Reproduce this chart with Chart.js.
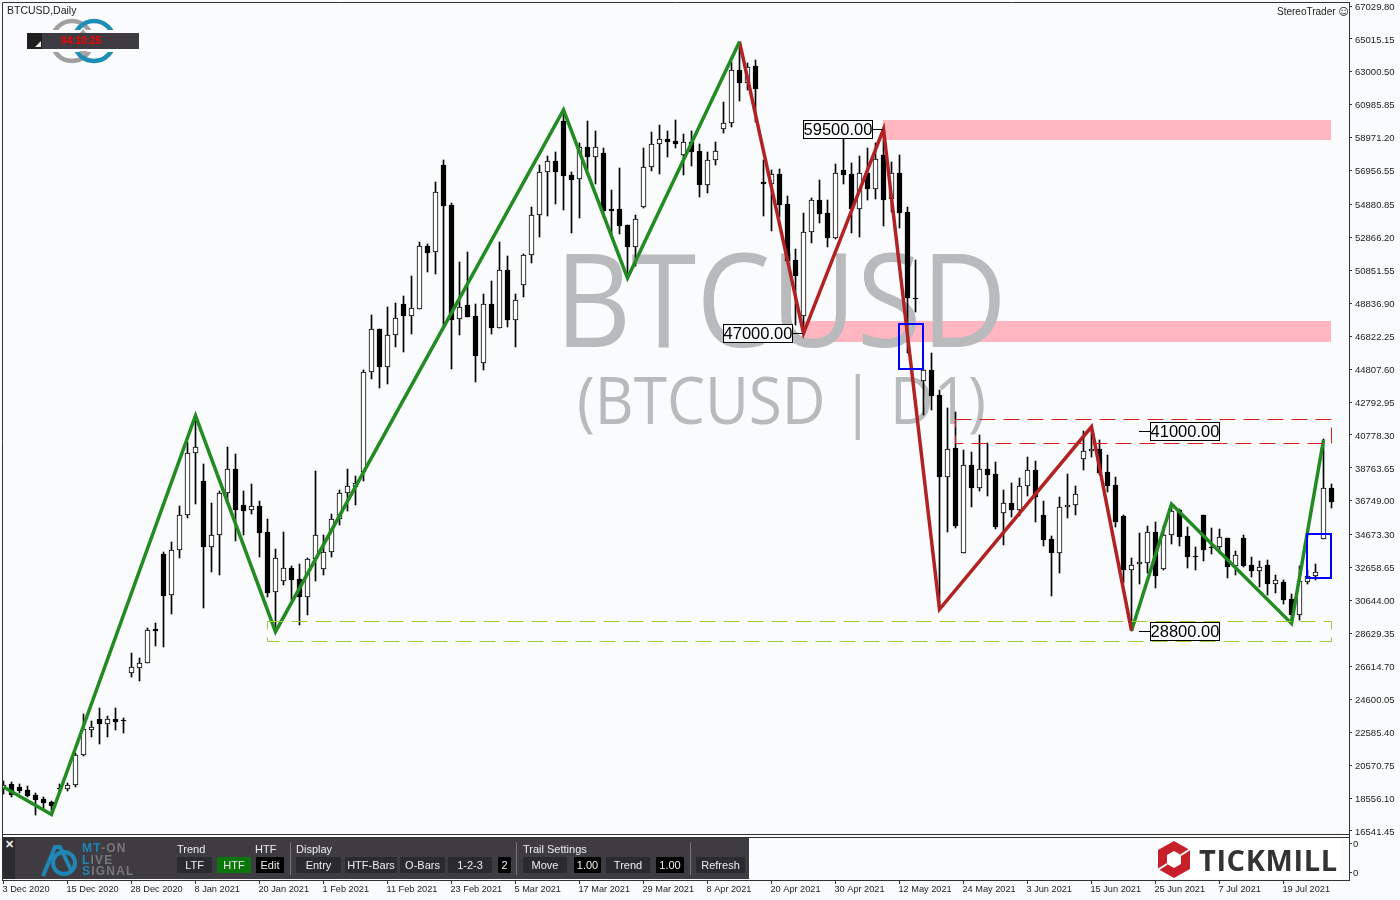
<!DOCTYPE html>
<html>
<head>
<meta charset="utf-8">
<title>BTCUSD Daily</title>
<script src="https://cdn.jsdelivr.net/npm/chart.js@4/dist/chart.umd.min.js"></script>
<style>
  html, body { margin: 0; padding: 0; background: #f9fbfd; }
  body { width: 1400px; height: 900px; position: relative; overflow: hidden; font-family: "Liberation Sans", sans-serif; }
  canvas { display: block; position: absolute; left: 0; top: 0; }
  .abs { position: absolute; white-space: nowrap; }
  .btn { position: absolute; top: 857px; height: 16px; line-height: 16px; text-align: center; color: #eee; font-size: 11px; background: #2b2a2e; border-radius: 1px; }
</style>
</head>
<body>
<canvas id="chart" width="1400" height="900"></canvas>

<div class="abs" style="left:7px;top:4px;font-size:10.5px;color:#222;">BTCUSD,Daily</div>
<div class="abs" style="left:1277px;top:6px;font-size:10px;color:#222;">StereoTrader <span style="font-family:'DejaVu Sans';">☺</span></div>

<svg class="abs" style="left:40px;top:14px;" width="90" height="56">
  <circle cx="32" cy="27" r="20" fill="none" stroke="#a0a0a0" stroke-width="4.5"/>
  <circle cx="54" cy="27" r="20" fill="none" stroke="#1e8db5" stroke-width="4.5"/>
  <rect x="8" y="16" width="72" height="22" fill="#f9fbfd"/>
  <polygon points="43,15 47,20 39,20" fill="#a8a8a8"/>
  <polygon points="43,39 47,34 39,34" fill="#a8a8a8" transform="translate(0,3)"/>
</svg>
<div class="abs" style="left:27px;top:33px;width:112px;height:16px;background:#3e3c42;"></div>
<div class="abs" style="left:27px;top:33px;width:15px;height:16px;background:#1f1f1f;"></div>
<svg class="abs" style="left:34px;top:40px;" width="8" height="8"><polygon points="7,1 7,7 1,7" fill="#e8e8e8"/></svg>
<div class="abs" style="left:61px;top:35px;font-size:10px;font-weight:bold;color:#f00;">04:10:25</div>

<!-- sub window under the price panel -->
<div class="abs" style="left:2px;top:834px;width:1347px;height:46px;background:#f9fbfd;border-top:1px solid #333;box-sizing:border-box;"></div>
<div class="abs" style="left:2px;top:837px;width:1347px;height:1px;background:#333;"></div>
<div class="abs" style="left:2px;top:834px;width:1px;height:46px;background:#333;"></div>
<div class="abs" style="left:1158px;top:838px;width:182px;height:41px;background:#fff;"></div>
<div class="abs" style="left:1349px;top:843px;width:3px;height:1px;background:#333;"></div>
<div class="abs" style="left:1349px;top:872px;width:3px;height:1px;background:#333;"></div>
<div class="abs" style="left:1353px;top:838px;font-size:9.5px;color:#222;">0</div>
<div class="abs" style="left:1353px;top:867px;font-size:9.5px;color:#222;">0</div>

<div id="toolbar" class="abs" style="left:3px;top:838px;width:746px;height:41px;background:#3e3c42;"></div>
<div class="abs" style="left:3px;top:838px;width:12px;height:41px;background:#2b2a2e;"></div>
<div class="abs" style="left:5px;top:838px;font-size:11px;font-weight:bold;color:#eee;">✕</div>
<svg class="abs" style="left:40px;top:842px;" width="44" height="37">
  <circle cx="24" cy="21" r="11" fill="none" stroke="#1f86b5" stroke-width="4"/>
  <polyline points="3,34 15,5 20,5 32,30" fill="none" stroke="#1f86b5" stroke-width="4"/>
</svg>
<div class="abs" style="left:82px;top:843px;font-size:12px;line-height:11.5px;font-weight:bold;letter-spacing:1.2px;color:#77767b;">
  <span style="color:#1f86b5;">MT</span>-ON<br><span style="color:#1f86b5;">L</span>IVE<br><span style="color:#1f86b5;">S</span>IGNAL
</div>

<!-- tickmill mark -->
<svg class="abs" style="left:1156px;top:839px;" width="38" height="41">
  <polygon points="18,2 34,11 34,30 18,39 2,30 2,11" fill="#c8202a"/>
  <polygon points="18,12 25,16 25,25 18,29 11,25 11,16" fill="#fff"/>
  <line x1="25" y1="16" x2="36" y2="9" stroke="#fff" stroke-width="2"/>
  <line x1="11" y1="25" x2="0" y2="32" stroke="#fff" stroke-width="2"/>
</svg>
<div class="abs" style="left:1199px;top:840px;font-family:'Open Sans';font-weight:700;font-size:29px;letter-spacing:0.6px;color:#333;">TICKMILL</div>

<script>
// time axis
const xTickBars = [0, 8, 16, 24, 32, 40, 48, 56, 64, 72, 80, 88, 96, 104, 112, 120, 128, 136, 144, 152, 160];
const xTickLabels = ["3 Dec 2020", "15 Dec 2020", "28 Dec 2020", "8 Jan 2021", "20 Jan 2021", "1 Feb 2021", "11 Feb 2021", "23 Feb 2021", "5 Mar 2021", "17 Mar 2021", "29 Mar 2021", "8 Apr 2021", "20 Apr 2021", "30 Apr 2021", "12 May 2021", "24 May 2021", "3 Jun 2021", "15 Jun 2021", "25 Jun 2021", "7 Jul 2021", "19 Jul 2021"];

// price axis
const yTicks = [67029.80, 65015.15, 63000.50, 60985.85, 58971.20, 56956.55, 54880.85, 52866.20, 50851.55, 48836.90, 46822.25, 44807.60, 42792.95, 40778.30, 38763.65, 36749.00, 34673.30, 32658.65, 30644.00, 28629.35, 26614.70, 24600.05, 22585.40, 20570.75, 18556.10, 16541.45];

// daily candles
const opens = [19090,19400,19230,19030,18730,18500,18320,19170,19110,19370,21180,22740,23380,23110,23380,23320,26230,26540,26810,28880,33470,30970,33720,35870,39650,37960,33900,34630,37210,38670,36480,36170,36420,34820,31150,31830,32620,31950,30880,33170,32560,33600,35620,37210,37610,38530,44610,47260,44960,46880,48790,48080,48470,52320,51960,57300,54850,47860,48710,48040,45160,48770,47340,50860,47830,49970,51780,54220,56860,57530,59970,56690,56430,58380,57810,58020,54600,54600,53630,52300,54740,57160,58560,58870,58770,57930,58690,58140,56100,57590,59520,59880,63090,62300,63340,56240,56120,56730,54910,51490,48060,53180,55140,54360,52850,56990,56730,54620,56790,55850,57890,55210,56790,54400,49180,44100,44730,43200,38230,39960,33570,38920,37550,38670,38370,35990,36600,36210,37640,38610,35870,34390,33570,36360,36480,39290,39770,39900,38490,37700,35820,32530,32860,32960,34820,32600,34630,36190,34590,33370,35870,33920,33900,34450,32780,34450,32800,32470,32800,31680,31770,30750,29780,31770,32170,34390,37520];
const highs = [19600,19540,19420,19290,18850,18620,18380,19420,19500,21300,23700,23270,24070,23580,24070,23440,27420,27110,28940,29250,33600,34220,36430,40350,41960,38980,36600,37330,40050,39610,37350,37780,36720,35640,33800,34830,32760,32880,33230,38570,34650,35950,37410,38690,38270,44750,48120,47260,48610,48850,49280,50510,52570,52450,56260,57590,54950,51360,51980,48770,49400,50210,52590,51730,49400,51860,54730,57300,57850,58090,60670,56870,58630,59970,59360,58320,55770,57100,53630,54220,58320,59320,59740,59360,60050,59190,59360,58560,58090,58730,61160,63620,64840,63520,63720,57600,56990,57030,55400,52140,54360,55280,56380,55160,57340,58900,57400,57850,58320,58630,59500,57500,57910,54710,51490,44750,45790,43530,42430,42190,39840,39730,40780,40270,39120,37410,37820,38130,39430,39180,36740,34590,36980,38390,37660,41030,41280,40480,39550,38210,35890,33270,34760,35210,35460,35210,36560,36270,35170,33940,35890,35090,35010,34490,33680,34650,33290,33080,33120,32210,31910,31050,32760,32520,32880,40520,37780];
const lows = [18810,18640,18850,18640,17540,17830,17540,18890,19010,19250,21150,22310,21870,22310,22720,22560,25990,25740,26810,27880,27820,29840,33250,35720,36570,30210,32410,32230,36630,34300,34650,35960,33310,30890,28740,31600,30680,29160,29770,31840,32230,33330,35270,36150,36500,37980,44200,43670,43910,46180,45880,46960,48470,50770,50650,47490,44830,46920,47980,44030,44770,46980,47310,47410,46180,49240,51320,52910,54200,54930,54570,53130,54080,56990,56160,54130,52910,53100,50390,51120,54680,56950,56750,57810,58340,56710,57260,55360,55610,57320,59270,59640,61240,61890,59940,54200,53280,54130,51370,47510,46960,52510,53770,52300,52750,56140,53160,52910,55160,55210,53580,54440,53420,45820,48320,42000,42310,30070,34860,35110,33570,36390,37370,37040,35050,34040,35780,35820,37040,35480,34000,30950,32350,35720,35890,38630,39440,38330,37310,35120,31720,28800,31660,32310,31430,32520,34080,33980,32650,32520,33080,33490,33530,32050,32210,32720,32110,31500,30990,31090,30420,29250,29450,31640,31900,34390,36330];
const closes = [19370,18760,19010,18700,18460,18270,18090,19130,19370,21180,22770,22890,23110,23380,23230,23250,26560,26810,28820,28800,30950,33720,35870,39650,40020,33900,34630,37210,38670,36210,36150,36420,34790,31130,33270,32620,31920,30880,33170,34630,33600,35620,37210,37640,37820,44610,47250,44960,46880,47920,48080,48530,52320,51930,55630,54800,47810,48630,48020,45630,48770,47340,50860,47830,49020,51780,54220,56860,57530,56890,56650,56400,58380,57810,58380,54500,54500,53580,52300,53970,57160,58560,58870,58720,58600,58690,58110,56100,57590,58160,59850,63090,62300,63310,61970,56120,56730,54870,51450,50530,53180,55140,54320,52850,56790,56710,54620,56790,55850,57650,55180,56790,54380,49180,49100,44750,43180,38230,39940,35230,38920,37550,38670,38340,35170,36600,36210,37640,38610,37000,34370,33570,36360,36480,37150,39770,39900,38470,37670,35480,32530,32820,32980,34820,32170,34630,36110,34550,33330,33290,33740,33840,34510,32720,33410,32780,32470,32720,31660,31890,30680,29760,31830,32150,32410,37520,36700];

// swing lines
const greenLegBars = [0, 6, 24, 34, 70, 78, 92];
const greenLegPrices = [19234, 17551, 41957, 28738, 60665, 50384, 64846];
const redLegBars = [92, 100, 110, 117, 136, 141];
const redLegPrices = [64846, 47000, 59500, 30109, 41280, 28800];
const lateLegBars = [141, 146, 161, 165];
const lateLegPrices = [28800, 36553, 29240, 40470];

// zones, boxes and price tags
const pinkZones = [[110, 166, 60083, 58829], [100, 166, 47752, 46467]];
const limeDashBox = [33, 166, 29423, 28151];
const redDashBox = [119, 166, 41725, 40268];
const blueBoxes = [[112, 115, 47587, 44833], [163, 166, 34717, 32043]];
const leftTags = [["59500.00", 110, 59500], ["47000.00", 100, 47000]];
const rightTags = [["41000.00", 142, 41000], ["28800.00", 142, 28800]];

// toolbar captions
const toolbarTitles = [["Trend", 177], ["HTF", 255], ["Display", 296], ["Trail Settings", 523]];
const toolbarButtons = [["LTF", 177, 35, "#2b2a2e"], ["HTF", 217, 34, "#0c760c"], ["Edit", 256, 28, "#000"], ["Entry", 296, 45, "#2b2a2e"], ["HTF-Bars", 345, 52, "#2b2a2e"], ["O-Bars", 400, 45, "#2b2a2e"], ["1-2-3", 448, 44, "#2b2a2e"], ["2", 498, 13, "#000"], ["Move", 523, 44, "#2b2a2e"], ["1.00", 574, 27, "#000"], ["Trend", 606, 44, "#2b2a2e"], ["1.00", 656, 28, "#000"], ["Refresh", 696, 49, "#2b2a2e"]];
const toolbarSeparators = [290, 516, 690];

function addToolbar() {
  const body = document.body;
  toolbarTitles.forEach(([text, x]) => {
    const el = document.createElement("div");
    el.className = "abs";
    el.style.cssText = `left:${x}px;top:843px;font-size:11px;color:#eee;`;
    el.textContent = text;
    body.appendChild(el);
  });
  toolbarButtons.forEach(([text, x, w, bg]) => {
    const el = document.createElement("div");
    el.className = "btn";
    el.style.cssText = `left:${x}px;width:${w}px;background:${bg};`;
    el.textContent = text;
    body.appendChild(el);
  });
  toolbarSeparators.forEach((x) => {
    const el = document.createElement("div");
    el.className = "abs";
    el.style.cssText = `left:${x}px;top:842px;width:1px;height:33px;background:#77767b;`;
    body.appendChild(el);
  });
}

// pixel box from bar numbers and prices
function boxOf(chart, item) {
  const { x, y } = chart.scales;
  const left = Math.floor(x.getPixelForValue(item[0]));
  const right = Math.floor(x.getPixelForValue(item[1]));
  const top = Math.round(y.getPixelForValue(item[2]));
  const bottom = Math.round(y.getPixelForValue(item[3]));
  return { left, top, width: right - left, height: bottom - top };
}

// keep candle edges on whole pixels so bodies stay crisp
const snapBars = {
  id: "snapBars",
  beforeDatasetDraw(chart, args) {
    if (args.meta.type !== "bar") return;
    args.meta.data.forEach((bar) => {
      bar.y = Math.round(bar.y);
      bar.base = Math.round(bar.base);
    });
  },
};

const backdrop = {
  id: "backdrop",
  beforeDatasetsDraw(chart) {
    const ctx = chart.ctx;
    ctx.save();
    ctx.fillStyle = "#ffb6c1";
    pinkZones.forEach((z) => {
      const b = boxOf(chart, z);
      ctx.fillRect(b.left, b.top, b.width, b.height);
    });
    ctx.fillStyle = "#b9babc";
    ctx.textBaseline = "alphabetic";
    ctx.textAlign = "left";
    ctx.font = '130px "Open Sans"';
    ctx.fillText("BTCUSD", 555, 347, 452);
    ctx.font = '65px "Open Sans"';
    ctx.fillText("(BTCUSD | D1)", 577, 424, 409);
    ctx.restore();
  },
};

const overlays = {
  id: "overlays",
  afterDatasetsDraw(chart) {
    const ctx = chart.ctx;
    const { x, y } = chart.scales;
    ctx.save();
    ctx.lineWidth = 1;
    ctx.setLineDash([16, 8]);
    ctx.strokeStyle = "#9acd32";
    let b = boxOf(chart, limeDashBox);
    ctx.strokeRect(b.left + 0.5, b.top + 0.5, b.width, b.height);
    ctx.strokeStyle = "#dc1e1e";
    b = boxOf(chart, redDashBox);
    ctx.strokeRect(b.left + 0.5, b.top + 0.5, b.width, b.height);
    ctx.setLineDash([]);

    ctx.lineWidth = 2;
    ctx.strokeStyle = "#0000ff";
    blueBoxes.forEach((item) => {
      const r = boxOf(chart, item);
      ctx.strokeRect(r.left, r.top, r.width, r.height);
    });

    // price tags with a short leader
    ctx.lineWidth = 1;
    ctx.font = '16.5px "Liberation Sans"';
    ctx.textBaseline = "middle";
    ctx.textAlign = "center";
    const tag = (text, left, py) => {
      ctx.fillStyle = "#f9fbfd";
      ctx.fillRect(left, py - 9, 70, 18);
      ctx.strokeStyle = "#000";
      ctx.strokeRect(left + 0.5, py - 8.5, 69, 18);
      ctx.fillStyle = "#000";
      ctx.fillText(text, left + 35, py + 1);
    };
    leftTags.forEach(([text, bar, price]) => {
      const px = Math.floor(x.getPixelForValue(bar));
      const py = Math.round(y.getPixelForValue(price));
      ctx.strokeStyle = "#000";
      ctx.beginPath();
      ctx.moveTo(px - 10, py + 0.5);
      ctx.lineTo(px, py + 0.5);
      ctx.stroke();
      tag(text, px - 80, py);
    });
    rightTags.forEach(([text, bar, price]) => {
      const px = Math.floor(x.getPixelForValue(bar));
      const py = Math.round(y.getPixelForValue(price));
      ctx.strokeStyle = "#000";
      ctx.beginPath();
      ctx.moveTo(px, py + 0.5);
      ctx.lineTo(px + 11, py + 0.5);
      ctx.stroke();
      tag(text, px + 11, py);
    });

    // frame of the price panel
    ctx.strokeStyle = "#333";
    ctx.beginPath();
    ctx.moveTo(2.5, 880);
    ctx.lineTo(2.5, 2.5);
    ctx.lineTo(1349, 2.5);
    ctx.stroke();
    ctx.restore();
  },
};

function legData(bars, prices) {
  return bars.map((bar, i) => ({ x: bar, y: prices[i] }));
}

function legDataset(bars, prices, color) {
  return {
    type: "line",
    data: legData(bars, prices),
    borderColor: color,
    borderWidth: 3.5,
    pointRadius: 0,
    tension: 0,
    order: 0,
  };
}

function plotChart() {
  const ctx = document.getElementById("chart").getContext("2d");
  const bars = opens.map((_, i) => i);
  const faceColors = bars.map((i) => (closes[i] >= opens[i] ? "#ffffff" : "#000000"));

  // swallow the label overhang so the panel keeps its exact frame
  const fitTo = (side, size) => (scale) => {
    scale[side] = size;
    scale.paddingTop = scale.paddingBottom = scale.paddingLeft = scale.paddingRight = 0;
  };

  new Chart(ctx, {
    data: {
      datasets: [
        legDataset(greenLegBars, greenLegPrices, "#228b22"),
        legDataset(redLegBars, redLegPrices, "#b22222"),
        legDataset(lateLegBars, lateLegPrices, "#228b22"),
        {
          type: "bar",
          data: bars.map((i) => ({ x: i, y: [opens[i], closes[i]] })),
          backgroundColor: faceColors,
          borderColor: "#000",
          borderWidth: 1,
          borderSkipped: false,
          barThickness: 5,
          grouped: false,
          order: 1,
        },
        {
          type: "bar",
          data: bars.map((i) => ({ x: i, y: [lows[i], highs[i]] })),
          backgroundColor: "#000",
          borderWidth: 0,
          barThickness: 1,
          grouped: false,
          order: 2,
        },
      ],
    },
    options: {
      responsive: false,
      animation: false,
      layout: { padding: { left: 2, top: 2, right: 0, bottom: 0 } },
      plugins: { legend: { display: false }, tooltip: { enabled: false } },
      scales: {
        x: {
          type: "linear",
          offset: false,
          min: -0.1875,
          max: 168.1875,
          afterBuildTicks: (axis) => {
            axis.ticks = xTickBars.map((v) => ({ value: v }));
          },
          afterFit: fitTo("height", 20),
          border: { color: "#333" },
          grid: { offset: false, drawOnChartArea: false, tickLength: 4, color: "#333" },
          ticks: {
            autoSkip: false,
            maxRotation: 0,
            align: "start",
            padding: 0,
            labelOffset: -1,
            color: "#222",
            font: { family: "Liberation Sans", size: 9.2 },
            callback: (value) => xTickLabels[xTickBars.indexOf(value)],
          },
        },
        y: {
          position: "right",
          min: 13542.7,
          max: 67274.6,
          afterBuildTicks: (axis) => {
            axis.ticks = yTicks.map((v) => ({ value: v }));
          },
          afterFit: fitTo("width", 51),
          border: { color: "#333" },
          grid: { drawOnChartArea: false, tickLength: 3, color: "#333" },
          ticks: {
            autoSkip: false,
            padding: 3,
            labelOffset: 1,
            color: "#222",
            font: { family: "Liberation Sans", size: 9.5 },
            callback: (value) => value.toFixed(2),
          },
        },
      },
    },
    plugins: [snapBars, backdrop, overlays],
  });
}

addToolbar();
document.fonts.load('130px "Open Sans"').finally(plotChart);
</script>
</body>
</html>
